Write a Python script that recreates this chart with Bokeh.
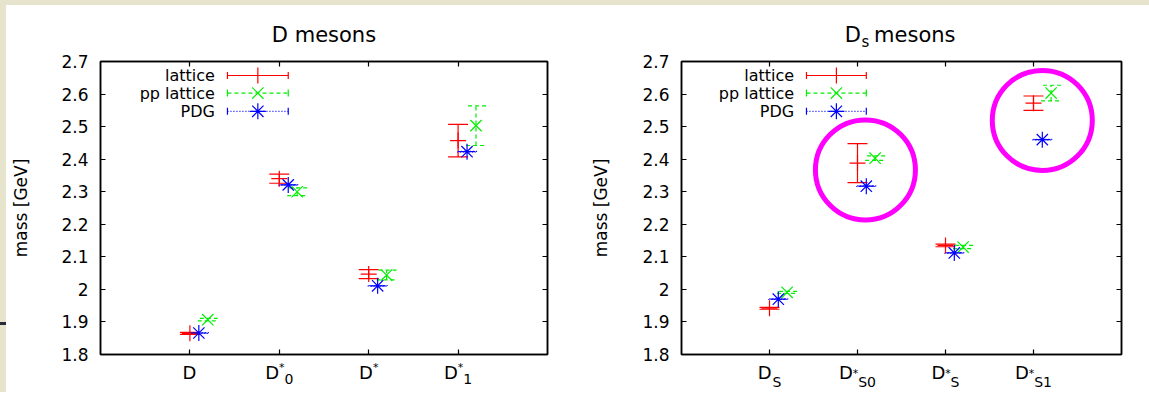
from bokeh.plotting import figure
from bokeh.models import (ColumnDataSource, Whisker, TeeHead, FixedTicker, LinearAxis,
                          Label, Range1d, Spacer, AllLabels)
from bokeh.layouts import row, column
from bokeh.embed import file_html
from bokeh.resources import INLINE
import math

# ---------------- data ----------------
series_names = ["lattice", "pp lattice", "PDG"]

# D mesons: categories D, D*_0, D*, D*_1
d_tick_base = ["D", "D", "D", "D"]
d_tick_sup = ["", "*", "*", "*"]
d_tick_sub = ["", "0", "", "1"]
d_lattice = [1.865, 2.340, 2.047, 2.457]
d_lattice_err = [0.003, 0.014, 0.014, 0.050]
d_pp = [1.907, 2.300, 2.044, 2.503]
d_pp_err = [0.004, 0.012, 0.015, 0.061]
d_pdg = [1.866, 2.321, 2.011, 2.423]
d_pdg_err = [0.001, 0.001, 0.001, 0.001]

# Ds mesons: categories D_S, D*_S0, D*_S, D*_S1
ds_tick_base = ["D", "D", "D", "D"]
ds_tick_sup = ["", "*", "*", "*"]
ds_tick_sub = ["S", "S0", "S", "S1"]
ds_lattice = [1.942, 2.388, 2.135, 2.572]
ds_lattice_err = [0.003, 0.060, 0.004, 0.022]
ds_pp = [1.991, 2.403, 2.130, 2.603]
ds_pp_err = [0.003, 0.007, 0.005, 0.024]
ds_pdg = [1.970, 2.317, 2.112, 2.460]
ds_pdg_err = [0.001, 0.001, 0.001, 0.001]

# highlighted (circled) groups in the Ds panel
ds_highlight_x = [2.09, 4.10]
ds_highlight_y = [2.367, 2.519]

y_ticks = [1.8, 1.9, 2.0, 2.1, 2.2, 2.3, 2.4, 2.5, 2.6, 2.7]
y_tick_labels = ["1.8", "1.9", "2", "2.1", "2.2", "2.3", "2.4", "2.5", "2.6", "2.7"]
x_ticks = [1, 2, 3, 4]

# ---------------- style ----------------
FONT = "DejaVu Sans"
BEIGE = "#e6e4cd"
COLORS = ["#ff0000", "#00ee00", "#0000ff"]
DASHES = ["solid", "4 3", "1 2"]
MARKERS = ["cross", "x", "asterisk"]
OFFSETS = [0.0, 0.2, 0.1]   # horizontal shift of each series within a category
YMIN, YMAX = 1.8, 2.7
XMIN, XMAX = 0, 5
HEIGHT, MB_TOP, MB_BOTTOM = 387, 56, 36
CHAR_W = {"D": 0.77, "S": 0.635, "0": 0.636, "1": 0.636, "*": 0.5,
          "s": 0.521, " ": 0.318, "m": 0.974, "e": 0.615, "o": 0.612, "n": 0.634}
BASE_FS, SUP_FS, SUB_FS = 18, 11, 14
TITLE_FS, TITLE_SUB_FS = 21, 15


def text_w(s, fs):
    return sum(CHAR_W[c] for c in s) * fs


def label_axis(p, ticks, labels, font_size, standoff, location):
    """Axis used only to carry text (no line, no ticks)."""
    ax = LinearAxis(ticker=FixedTicker(ticks=ticks),
                    major_label_overrides=dict(zip(ticks, labels)),
                    major_label_text_font=FONT, major_label_text_font_size=f"{font_size}px",
                    major_label_text_color="black", major_label_standoff=standoff,
                    major_label_policy=AllLabels(), major_tick_line_color=None,
                    minor_tick_line_color=None, axis_line_color=None,
                    major_tick_in=0, major_tick_out=0)
    p.add_layout(ax, location)
    return ax


def make_panel(tick_base, tick_sup, tick_sub, values, errors, width, mb_left, mb_right,
               label_standoff):
    p = figure(width=width, height=HEIGHT, x_range=Range1d(XMIN, XMAX),
               y_range=Range1d(YMIN, YMAX), output_backend="svg", toolbar_location=None,
               title=None,
               min_border_left=mb_left, min_border_right=mb_right, min_border_top=MB_TOP,
               min_border_bottom=MB_BOTTOM, background_fill_color="white",
               border_fill_color="white", outline_line_color="black",
               outline_line_width=1.5)
    p.xgrid.grid_line_color = None
    p.ygrid.grid_line_color = None
    ppu = (width - mb_left - mb_right) / (XMAX - XMIN)   # pixels per x unit

    # left axis
    ya = p.yaxis[0]
    ya.ticker = FixedTicker(ticks=y_ticks)
    ya.major_label_overrides = dict(zip(y_ticks, y_tick_labels))
    ya.major_label_text_font = FONT
    ya.major_label_text_font_size = "17px"
    ya.major_label_text_color = "black"
    ya.major_label_standoff = 12
    ya.major_tick_in = 5
    ya.major_tick_out = 0
    ya.minor_tick_line_color = None
    ya.axis_line_width = 1.5
    ya.major_tick_line_width = 1.2
    ya.axis_label = "mass [GeV]"
    ya.axis_label_text_font = FONT
    ya.axis_label_text_font_size = "17px"
    ya.axis_label_text_font_style = "normal"
    ya.axis_label_text_color = "black"
    ya.axis_label_standoff = label_standoff

    # bottom axis: inward ticks only
    xa = p.xaxis[0]
    xa.ticker = FixedTicker(ticks=x_ticks)
    xa.major_label_overrides = {t: "" for t in x_ticks}
    xa.major_label_text_font_size = "0px"
    xa.major_label_standoff = 0
    xa.major_tick_in = 5
    xa.major_tick_out = 0
    xa.minor_tick_line_color = None
    xa.axis_line_width = 1.5
    xa.major_tick_line_width = 1.2

    # mirrored ticks on right and top
    for loc, tks in (("right", y_ticks), ("above", x_ticks)):
        ax = LinearAxis(ticker=FixedTicker(ticks=tks), major_label_text_font_size="0px",
                        major_label_overrides={t: "" for t in tks}, major_tick_in=5,
                        major_tick_out=0, minor_tick_line_color=None, axis_line_width=1.5,
                        major_tick_line_width=1.2, major_label_standoff=0)
        p.add_layout(ax, loc)

    # category tick labels with superscripts / subscripts (centered as a whole)
    bt, bl, st, sl, ut, ul = [], [], [], [], [], []
    for c, b, s, u in zip(x_ticks, tick_base, tick_sup, tick_sub):
        wb, ws, wu = text_w(b, BASE_FS), text_w(s, SUP_FS), text_w(u, SUB_FS)
        gap = ws if s else 1.0
        left = -(wb + gap + wu) / 2
        bt.append(c + (left + wb / 2) / ppu); bl.append(b)
        if s:
            st.append(c + (left + wb + ws / 2) / ppu); sl.append(s)
        if u:
            ut.append(c + (left + wb + gap + wu / 2) / ppu); ul.append(u)
    label_axis(p, bt, bl, BASE_FS, 7, "below")
    label_axis(p, ut, ul, SUB_FS, -12, "below")
    label_axis(p, st, sl, SUP_FS, -26, "below")

    # data series: error bars + markers
    for name, vals, errs, color, dash, marker, off in zip(series_names, values, errors,
                                                         COLORS, DASHES, MARKERS, OFFSETS):
        xs = [c + off for c in x_ticks]
        src = ColumnDataSource(dict(x=xs, y=vals,
                                    upper=[v + e for v, e in zip(vals, errs)],
                                    lower=[v - e for v, e in zip(vals, errs)]))
        w = Whisker(base="x", upper="upper", lower="lower", source=src, dimension="height",
                    line_color=color, line_width=1.2, line_dash=dash,
                    upper_head=TeeHead(size=20, line_color=color, line_width=1.2,
                                       line_dash=dash),
                    lower_head=TeeHead(size=20, line_color=color, line_width=1.2,
                                       line_dash=dash))
        p.add_layout(w)
        p.scatter("x", "y", source=src, marker=marker, size=16, line_color=color,
                  line_width=1.2, fill_color=None)

    # legend (gnuplot style: label on left, sample on right)
    leg_rows = [2.657, 2.603, 2.547]
    leg_text_x, leg_x0, leg_x1, leg_xm = 1.28, 1.42, 2.10, 1.76
    for name, color, dash, marker, ry in zip(series_names, COLORS, DASHES, MARKERS, leg_rows):
        p.add_layout(Label(x=leg_text_x, y=ry, text=name, text_font=FONT,
                           text_font_size="16px", text_align="right",
                           text_baseline="middle", text_color="black"))
        p.segment(x0=[leg_x0], y0=[ry], x1=[leg_x1], y1=[ry], line_color=color,
                  line_width=1.2, line_dash=dash)
        p.scatter(x=[leg_x0, leg_x1], y=[ry, ry], marker="dash", angle=math.pi / 2,
                  size=7, line_color=color, line_width=1.2)
        p.scatter(x=[leg_xm], y=[ry], marker=marker, size=16, line_color=color,
                  line_width=1.2, fill_color=None)
    return p, ppu


def add_title(p, ppu, main, sub, rest, gap=0.0):
    """Title 'main_sub rest' centered above the frame (sub as subscript)."""
    wm, ws, wr = text_w(main, TITLE_FS), text_w(sub, TITLE_SUB_FS), text_w(rest, TITLE_FS)
    xc = (XMIN + XMAX) / 2
    total = wm + ws + gap + wr
    left = -total / 2
    if sub:
        mt = [xc + (left + wm / 2) / ppu, xc + (left + wm + ws + gap + wr / 2) / ppu]
        ml = [main, rest.strip()]
        label_axis(p, mt, ml, TITLE_FS, 15, "above")
        label_axis(p, [xc + (left + wm + 1 + ws / 2) / ppu], [sub], TITLE_SUB_FS, -31,
                   "above")
    else:
        label_axis(p, [xc], [main + rest], TITLE_FS, 15, "above")


# ---------------- left panel: D mesons ----------------
p1, ppu1 = make_panel(d_tick_base, d_tick_sup, d_tick_sub,
                      [d_lattice, d_pp, d_pdg], [d_lattice_err, d_pp_err, d_pdg_err],
                      width=582, mb_left=94, mb_right=41, label_standoff=27)
add_title(p1, ppu1, "D", "", " mesons")

# ---------------- right panel: Ds mesons ----------------
p2, ppu2 = make_panel(ds_tick_base, ds_tick_sup, ds_tick_sub,
                      [ds_lattice, ds_pp, ds_pdg], [ds_lattice_err, ds_pp_err, ds_pdg_err],
                      width=561, mb_left=87, mb_right=28, label_standoff=28)
add_title(p2, ppu2, "D", "s", " mesons", gap=3.0)
p2.scatter(ds_highlight_x, ds_highlight_y, marker="circle", size=100, fill_color=None,
           line_color="#ff00ff", line_width=5)

left_strip = column(Spacer(width=6, height=317),
                    Spacer(width=6, height=3, styles={"background-color": "#2b2b3a"}),
                    Spacer(width=6, height=67),
                    styles={"background-color": BEIGE})
layout = column(Spacer(width=1149, height=5, styles={"background-color": BEIGE}),
                row(left_strip, p1, p2, styles={"background-color": "white"}),
                styles={"background-color": "white"})
open("out.html", "w").write(file_html(layout, INLINE))
